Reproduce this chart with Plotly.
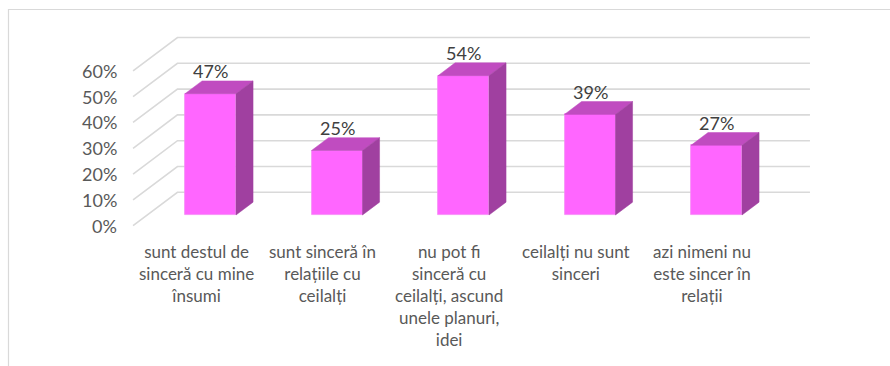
import plotly.graph_objects as go

# --- data -------------------------------------------------------------
categories = [
    "sunt destul de<br>sinceră cu mine<br>însumi",
    "sunt sinceră în<br>relațiile cu<br>ceilalți",
    "nu pot fi<br>sinceră cu<br>ceilalți, ascund<br>unele planuri,<br>idei",
    "ceilalți nu sunt<br>sinceri",
    "azi nimeni nu<br>este sincer în<br>relații",
]
values = [47, 25, 54, 39, 27]          # percent
tick_values = [0, 10, 20, 30, 40, 50, 60]
tick_labels = ["0%", "10%", "20%", "30%", "40%", "50%", "60%"]

# --- pseudo-3D geometry (in axis units) -------------------------------
W, H = 890, 366
PX_PER_CAT = 126.5
PX_PER_PCT = 2.58
X0_PX, Y0_PX = 210.5, 215.0               # position of category 0 / 0 %

# one unit of depth expressed in data units
DEPTH_X = 30.2 / PX_PER_CAT
DEPTH_Y = 22.7 / PX_PER_PCT
BAR_DEPTH = 0.565      # bar thickness (depth units)
WALL_FRONT = -0.47     # front edge of the side wall
WALL_BACK = 1.0        # back wall
BAR_W = 51 / PX_PER_CAT

FRONT = "#FF66FF"
TOP = "#C04CC0"
SIDE = "#A040A0"
GRID = "#D9D9D9"
TXT = "#595959"

n = len(categories)
fig = go.Figure()

shapes = []
# gridlines: diagonal on the left wall + horizontal on the back wall,
# kept in the layer below the bars
left = -0.5
right = n - 0.5
for v in tick_values:
    x1, y1 = left + WALL_FRONT * DEPTH_X, v + WALL_FRONT * DEPTH_Y
    x2, y2 = left + WALL_BACK * DEPTH_X, v + WALL_BACK * DEPTH_Y
    x3 = right + WALL_BACK * DEPTH_X
    shapes.append(dict(type="path", xref="x", yref="y", layer="below",
                       path=f"M{x1},{y1} L{x2},{y2} L{x3},{y2}",
                       line=dict(color=GRID, width=1.6)))

dx = BAR_DEPTH * DEPTH_X
dy = BAR_DEPTH * DEPTH_Y

# front faces
fig.add_trace(go.Bar(x=list(range(n)), y=values, width=BAR_W,
                     marker=dict(color=FRONT, line=dict(color="#F58AF5", width=0.8)),
                     hoverinfo="skip", showlegend=False))

# top and side faces
for i, v in enumerate(values):
    xl, xr = i - BAR_W / 2, i + BAR_W / 2
    fig.add_trace(go.Scatter(
        x=[xl, xr, xr + dx, xl + dx, xl],
        y=[v, v, v + dy, v + dy, v],
        mode="lines", fill="toself", fillcolor=TOP,
        line=dict(color=TOP, width=0.5),
        hoverinfo="skip", showlegend=False))
    fig.add_trace(go.Scatter(
        x=[xr, xr + dx, xr + dx, xr, xr],
        y=[0, dy, v + dy, v, 0],
        mode="lines", fill="toself", fillcolor=SIDE,
        line=dict(color=SIDE, width=0.5),
        hoverinfo="skip", showlegend=False))

annotations = []
FONT = "Lato"
# value labels
for i, v in enumerate(values):
    annotations.append(dict(x=i, y=v + dy, xref="x", yref="y",
                            text=f"{v}%", showarrow=False,
                            xanchor="center", yanchor="bottom", yshift=-3,
                            font=dict(family=FONT, size=18, color="#404040")))
# axis tick labels
for v, t in zip(tick_values, tick_labels):
    annotations.append(dict(x=left + WALL_FRONT * DEPTH_X, y=v + WALL_FRONT * DEPTH_Y,
                            xref="x", yref="y", text=t, showarrow=False,
                            xanchor="right", yanchor="middle", xshift=-14,
                            font=dict(family=FONT, size=18, color=TXT)))
# category labels
for i, c in enumerate(categories):
    annotations.append(dict(x=i + WALL_FRONT * DEPTH_X, y=-9.4, xref="x", yref="y",
                            text=c, showarrow=False, align="center",
                            xanchor="center", yanchor="top",
                            font=dict(family=FONT, size=17, color=TXT)))

# chart-area border
shapes.append(dict(type="rect", xref="paper", yref="paper",
                   x0=8.5 / W, x1=1.05, y0=-0.05, y1=1 - 9.5 / H,
                   line=dict(color=GRID, width=1.2)))

xa = -X0_PX / PX_PER_CAT
xb = xa + W / PX_PER_CAT
ya_top = Y0_PX / PX_PER_PCT
ya_bot = -(H - Y0_PX) / PX_PER_PCT

fig.update_layout(
    width=W, height=H,
    margin=dict(l=0, r=0, t=0, b=0),
    paper_bgcolor="white", plot_bgcolor="white",
    xaxis=dict(range=[xa, xb], visible=False, fixedrange=True),
    yaxis=dict(range=[ya_bot, ya_top], visible=False, fixedrange=True),
    annotations=annotations,
    shapes=shapes,
    bargap=0,
)

fig.write_html("out.html")
